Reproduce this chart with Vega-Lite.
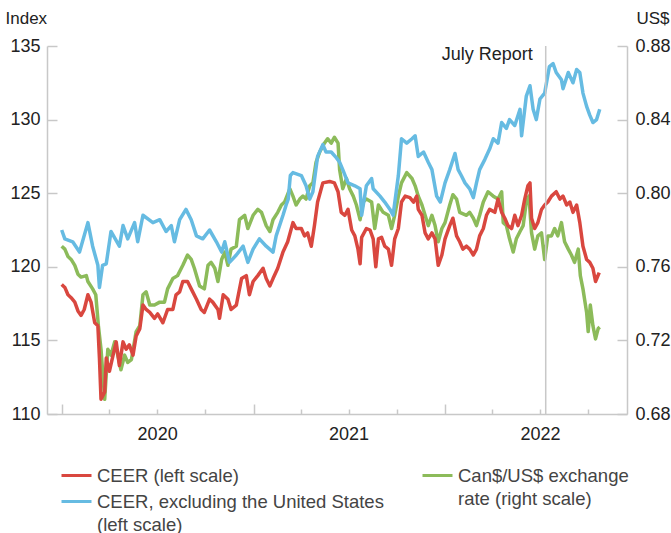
{
  "$schema": "https://vega.github.io/schema/vega-lite/v6.json",
  "width": 580,
  "height": 368,
  "autosize": "none",
  "padding": {"left": 47, "top": 46, "right": 44, "bottom": 119},
  "config": {
    "font": "Liberation Sans",
    "view": {"stroke": null},
    "axis": {
      "grid": false,
      "domainColor": "#c8c8c8",
      "tickColor": "#c8c8c8",
      "domainWidth": 1.5,
      "tickWidth": 1.5,
      "labelColor": "#222222",
      "labelFontSize": 18,
      "titleFontSize": 17,
      "titleFontWeight": "normal",
      "titleColor": "#222222"
    },
    "legend": {
      "labelFontSize": 18.5,
      "labelColor": "#444444",
      "labelLimit": 500,
      "symbolType": "stroke",
      "symbolStrokeWidth": 3,
      "symbolSize": 900,
      "padding": 0,
      "rowPadding": -4
    },
    "style": {"guide-label": {"lineHeight": 23}}
  },
  "datasets": {
    "ceer": [
      {"date": "2020-01-01", "value": 118.8}, {"date": "2020-01-07", "value": 118.6}, {"date": "2020-01-13", "value": 118.1},
      {"date": "2020-01-19", "value": 117.9}, {"date": "2020-01-26", "value": 117.6}, {"date": "2020-02-01", "value": 117.0},
      {"date": "2020-02-07", "value": 116.7}, {"date": "2020-02-13", "value": 117.1}, {"date": "2020-02-20", "value": 118.1},
      {"date": "2020-02-26", "value": 117.6}, {"date": "2020-03-04", "value": 116.2}, {"date": "2020-03-10", "value": 116.0},
      {"date": "2020-03-13", "value": 113.8}, {"date": "2020-03-16", "value": 111.0}, {"date": "2020-03-23", "value": 111.5},
      {"date": "2020-03-26", "value": 113.8}, {"date": "2020-04-01", "value": 112.9}, {"date": "2020-04-08", "value": 114.0},
      {"date": "2020-04-14", "value": 114.9}, {"date": "2020-04-20", "value": 113.3}, {"date": "2020-04-27", "value": 114.9},
      {"date": "2020-05-03", "value": 114.4}, {"date": "2020-05-09", "value": 114.7}, {"date": "2020-05-16", "value": 114.0},
      {"date": "2020-05-22", "value": 115.3}, {"date": "2020-05-29", "value": 115.8}, {"date": "2020-06-04", "value": 117.4},
      {"date": "2020-06-10", "value": 117.1}, {"date": "2020-06-17", "value": 116.9}, {"date": "2020-06-26", "value": 116.5},
      {"date": "2020-07-02", "value": 116.8}, {"date": "2020-07-12", "value": 116.2}, {"date": "2020-07-21", "value": 117.1},
      {"date": "2020-07-31", "value": 117.1}, {"date": "2020-08-06", "value": 118.1}, {"date": "2020-08-13", "value": 118.3},
      {"date": "2020-08-19", "value": 119.0}, {"date": "2020-08-28", "value": 119.0}, {"date": "2020-09-04", "value": 118.5},
      {"date": "2020-09-14", "value": 117.8}, {"date": "2020-09-23", "value": 117.1}, {"date": "2020-09-29", "value": 116.9},
      {"date": "2020-10-09", "value": 117.8}, {"date": "2020-10-15", "value": 117.6}, {"date": "2020-10-25", "value": 117.1},
      {"date": "2020-10-28", "value": 116.5}, {"date": "2020-11-04", "value": 118.1}, {"date": "2020-11-13", "value": 117.8},
      {"date": "2020-11-19", "value": 117.1}, {"date": "2020-11-29", "value": 117.4}, {"date": "2020-12-09", "value": 119.2},
      {"date": "2020-12-18", "value": 119.4}, {"date": "2020-12-24", "value": 118.1}, {"date": "2020-12-31", "value": 119.0},
      {"date": "2021-01-09", "value": 119.4}, {"date": "2021-01-19", "value": 119.9}, {"date": "2021-01-25", "value": 119.2},
      {"date": "2021-02-01", "value": 118.7}, {"date": "2021-02-07", "value": 119.2}, {"date": "2021-02-16", "value": 119.9},
      {"date": "2021-02-26", "value": 121.0}, {"date": "2021-03-07", "value": 121.7}, {"date": "2021-03-17", "value": 123.0},
      {"date": "2021-03-23", "value": 122.6}, {"date": "2021-04-02", "value": 122.6}, {"date": "2021-04-08", "value": 122.1},
      {"date": "2021-04-14", "value": 122.3}, {"date": "2021-04-21", "value": 121.4}, {"date": "2021-04-27", "value": 122.8},
      {"date": "2021-05-03", "value": 124.4}, {"date": "2021-05-13", "value": 125.7}, {"date": "2021-05-26", "value": 125.8},
      {"date": "2021-06-04", "value": 125.7}, {"date": "2021-06-11", "value": 125.1}, {"date": "2021-06-17", "value": 123.7},
      {"date": "2021-06-24", "value": 123.5}, {"date": "2021-06-30", "value": 123.9}, {"date": "2021-07-07", "value": 122.5},
      {"date": "2021-07-13", "value": 122.1}, {"date": "2021-07-19", "value": 121.2}, {"date": "2021-07-23", "value": 120.2},
      {"date": "2021-07-26", "value": 122.0}, {"date": "2021-08-04", "value": 122.6}, {"date": "2021-08-11", "value": 122.5},
      {"date": "2021-08-17", "value": 121.9}, {"date": "2021-08-22", "value": 120.0}, {"date": "2021-08-27", "value": 121.9},
      {"date": "2021-09-02", "value": 122.0}, {"date": "2021-09-08", "value": 121.4}, {"date": "2021-09-15", "value": 121.2},
      {"date": "2021-09-21", "value": 120.1}, {"date": "2021-09-27", "value": 121.9}, {"date": "2021-10-04", "value": 122.6},
      {"date": "2021-10-10", "value": 124.4}, {"date": "2021-10-17", "value": 124.8}, {"date": "2021-10-26", "value": 124.7},
      {"date": "2021-11-02", "value": 124.4}, {"date": "2021-11-08", "value": 124.8}, {"date": "2021-11-11", "value": 123.9},
      {"date": "2021-11-18", "value": 123.5}, {"date": "2021-11-24", "value": 122.3}, {"date": "2021-11-30", "value": 121.9},
      {"date": "2021-12-07", "value": 122.3}, {"date": "2021-12-13", "value": 121.9}, {"date": "2021-12-19", "value": 120.1},
      {"date": "2021-12-26", "value": 120.8}, {"date": "2022-01-01", "value": 121.9}, {"date": "2022-01-10", "value": 122.8},
      {"date": "2022-01-16", "value": 123.3}, {"date": "2022-01-23", "value": 122.1}, {"date": "2022-01-29", "value": 121.7},
      {"date": "2022-02-04", "value": 121.2}, {"date": "2022-02-11", "value": 121.4}, {"date": "2022-02-17", "value": 121.2},
      {"date": "2022-02-24", "value": 120.8}, {"date": "2022-03-02", "value": 121.2}, {"date": "2022-03-08", "value": 122.1},
      {"date": "2022-03-15", "value": 122.6}, {"date": "2022-03-21", "value": 123.5}, {"date": "2022-03-27", "value": 123.9},
      {"date": "2022-04-06", "value": 123.7}, {"date": "2022-04-12", "value": 124.6}, {"date": "2022-04-19", "value": 123.7},
      {"date": "2022-04-25", "value": 123.3}, {"date": "2022-05-01", "value": 122.8}, {"date": "2022-05-08", "value": 122.6},
      {"date": "2022-05-14", "value": 123.5}, {"date": "2022-05-20", "value": 122.8}, {"date": "2022-05-27", "value": 123.5},
      {"date": "2022-06-02", "value": 124.6}, {"date": "2022-06-08", "value": 125.5}, {"date": "2022-06-12", "value": 125.7},
      {"date": "2022-06-15", "value": 123.3}, {"date": "2022-06-21", "value": 122.6}, {"date": "2022-06-27", "value": 123.0},
      {"date": "2022-07-04", "value": 123.9}, {"date": "2022-07-10", "value": 124.2}, {"date": "2022-07-16", "value": 124.4},
      {"date": "2022-07-23", "value": 124.8}, {"date": "2022-08-01", "value": 125.1}, {"date": "2022-08-08", "value": 124.6},
      {"date": "2022-08-14", "value": 124.8}, {"date": "2022-08-21", "value": 124.2}, {"date": "2022-08-27", "value": 124.4},
      {"date": "2022-09-02", "value": 123.7}, {"date": "2022-09-09", "value": 124.2}, {"date": "2022-09-15", "value": 123.0},
      {"date": "2022-09-21", "value": 121.4}, {"date": "2022-09-28", "value": 120.5}, {"date": "2022-10-04", "value": 120.3},
      {"date": "2022-10-10", "value": 119.9}, {"date": "2022-10-15", "value": 119.0}, {"date": "2022-10-22", "value": 119.6}
    ],
    "ceerx": [
      {"date": "2020-01-01", "value": 122.5}, {"date": "2020-01-07", "value": 121.9}, {"date": "2020-01-22", "value": 121.7},
      {"date": "2020-02-04", "value": 121.0}, {"date": "2020-02-20", "value": 123.0}, {"date": "2020-02-29", "value": 121.4},
      {"date": "2020-03-10", "value": 120.1}, {"date": "2020-03-13", "value": 118.6}, {"date": "2020-03-19", "value": 120.1},
      {"date": "2020-03-26", "value": 120.2}, {"date": "2020-04-04", "value": 122.4}, {"date": "2020-04-20", "value": 121.4},
      {"date": "2020-04-27", "value": 122.8}, {"date": "2020-05-06", "value": 121.9}, {"date": "2020-05-19", "value": 123.0},
      {"date": "2020-05-25", "value": 121.7}, {"date": "2020-06-04", "value": 123.5}, {"date": "2020-06-23", "value": 123.0},
      {"date": "2020-07-06", "value": 123.2}, {"date": "2020-07-18", "value": 122.4}, {"date": "2020-07-28", "value": 122.8},
      {"date": "2020-08-03", "value": 121.7}, {"date": "2020-08-13", "value": 123.2}, {"date": "2020-08-25", "value": 123.9},
      {"date": "2020-09-04", "value": 123.2}, {"date": "2020-09-14", "value": 122.1}, {"date": "2020-09-26", "value": 121.9},
      {"date": "2020-10-09", "value": 122.5}, {"date": "2020-10-22", "value": 121.7}, {"date": "2020-11-01", "value": 121.0},
      {"date": "2020-11-07", "value": 121.7}, {"date": "2020-11-16", "value": 120.3}, {"date": "2020-11-29", "value": 120.8},
      {"date": "2020-12-12", "value": 121.4}, {"date": "2020-12-21", "value": 120.3}, {"date": "2020-12-31", "value": 121.2},
      {"date": "2021-01-12", "value": 121.9}, {"date": "2021-01-25", "value": 121.4}, {"date": "2021-02-07", "value": 121.0},
      {"date": "2021-02-13", "value": 122.1}, {"date": "2021-02-26", "value": 123.5}, {"date": "2021-03-04", "value": 124.2},
      {"date": "2021-03-08", "value": 124.6}, {"date": "2021-03-12", "value": 126.2}, {"date": "2021-03-17", "value": 126.4},
      {"date": "2021-04-02", "value": 126.2}, {"date": "2021-04-11", "value": 125.5}, {"date": "2021-04-18", "value": 124.6},
      {"date": "2021-04-24", "value": 125.1}, {"date": "2021-05-03", "value": 127.5}, {"date": "2021-05-13", "value": 128.3},
      {"date": "2021-05-19", "value": 127.8}, {"date": "2021-05-29", "value": 127.8}, {"date": "2021-06-08", "value": 127.4},
      {"date": "2021-06-14", "value": 127.1}, {"date": "2021-06-20", "value": 126.6}, {"date": "2021-06-30", "value": 125.7},
      {"date": "2021-07-13", "value": 125.5}, {"date": "2021-07-23", "value": 125.3}, {"date": "2021-07-26", "value": 123.5},
      {"date": "2021-08-04", "value": 125.5}, {"date": "2021-08-14", "value": 126.0}, {"date": "2021-08-17", "value": 125.3},
      {"date": "2021-08-30", "value": 124.8}, {"date": "2021-09-08", "value": 124.4}, {"date": "2021-09-18", "value": 123.9},
      {"date": "2021-09-24", "value": 123.5}, {"date": "2021-10-04", "value": 126.2}, {"date": "2021-10-10", "value": 128.7},
      {"date": "2021-10-20", "value": 128.4}, {"date": "2021-10-30", "value": 128.7}, {"date": "2021-11-05", "value": 128.9},
      {"date": "2021-11-11", "value": 127.5}, {"date": "2021-11-21", "value": 127.8}, {"date": "2021-11-30", "value": 127.1},
      {"date": "2021-12-07", "value": 126.6}, {"date": "2021-12-16", "value": 124.8}, {"date": "2021-12-23", "value": 124.4},
      {"date": "2022-01-01", "value": 125.7}, {"date": "2022-01-10", "value": 126.6}, {"date": "2022-01-20", "value": 127.7},
      {"date": "2022-01-26", "value": 126.6}, {"date": "2022-02-01", "value": 126.2}, {"date": "2022-02-08", "value": 125.7},
      {"date": "2022-02-17", "value": 125.3}, {"date": "2022-02-24", "value": 124.7}, {"date": "2022-03-02", "value": 125.7},
      {"date": "2022-03-08", "value": 126.6}, {"date": "2022-03-18", "value": 127.3}, {"date": "2022-03-27", "value": 128.0},
      {"date": "2022-04-03", "value": 128.7}, {"date": "2022-04-12", "value": 128.4}, {"date": "2022-04-19", "value": 129.8},
      {"date": "2022-04-28", "value": 129.4}, {"date": "2022-05-04", "value": 130.0}, {"date": "2022-05-14", "value": 129.6},
      {"date": "2022-05-24", "value": 130.7}, {"date": "2022-05-27", "value": 128.9}, {"date": "2022-06-05", "value": 131.6},
      {"date": "2022-06-12", "value": 132.3}, {"date": "2022-06-18", "value": 130.7}, {"date": "2022-06-24", "value": 130.0},
      {"date": "2022-07-01", "value": 131.4}, {"date": "2022-07-10", "value": 131.8}, {"date": "2022-07-19", "value": 133.6},
      {"date": "2022-07-26", "value": 133.8}, {"date": "2022-08-01", "value": 133.2}, {"date": "2022-08-11", "value": 132.7},
      {"date": "2022-08-14", "value": 132.1}, {"date": "2022-08-24", "value": 133.2}, {"date": "2022-09-02", "value": 132.5},
      {"date": "2022-09-09", "value": 133.4}, {"date": "2022-09-15", "value": 133.2}, {"date": "2022-09-21", "value": 131.8},
      {"date": "2022-09-28", "value": 130.9}, {"date": "2022-10-04", "value": 130.3}, {"date": "2022-10-10", "value": 129.8},
      {"date": "2022-10-17", "value": 130.0}, {"date": "2022-10-23", "value": 130.7}
    ],
    "cad": [
      {"date": "2020-01-01", "value": 0.7712}, {"date": "2020-01-07", "value": 0.7696}, {"date": "2020-01-13", "value": 0.7656},
      {"date": "2020-01-19", "value": 0.764}, {"date": "2020-01-26", "value": 0.7608}, {"date": "2020-02-01", "value": 0.756},
      {"date": "2020-02-07", "value": 0.7544}, {"date": "2020-02-17", "value": 0.7552}, {"date": "2020-02-20", "value": 0.752},
      {"date": "2020-02-29", "value": 0.748}, {"date": "2020-03-06", "value": 0.7448}, {"date": "2020-03-11", "value": 0.728},
      {"date": "2020-03-16", "value": 0.7152}, {"date": "2020-03-23", "value": 0.688}, {"date": "2020-03-29", "value": 0.7152},
      {"date": "2020-04-04", "value": 0.712}, {"date": "2020-04-11", "value": 0.7192}, {"date": "2020-04-17", "value": 0.712},
      {"date": "2020-04-23", "value": 0.704}, {"date": "2020-04-30", "value": 0.712}, {"date": "2020-05-06", "value": 0.708},
      {"date": "2020-05-13", "value": 0.7096}, {"date": "2020-05-22", "value": 0.7248}, {"date": "2020-05-29", "value": 0.728},
      {"date": "2020-06-04", "value": 0.7448}, {"date": "2020-06-10", "value": 0.7464}, {"date": "2020-06-17", "value": 0.7392},
      {"date": "2020-06-26", "value": 0.7392}, {"date": "2020-07-06", "value": 0.7408}, {"date": "2020-07-15", "value": 0.7408},
      {"date": "2020-07-21", "value": 0.748}, {"date": "2020-07-31", "value": 0.7536}, {"date": "2020-08-09", "value": 0.7552},
      {"date": "2020-08-19", "value": 0.7608}, {"date": "2020-08-28", "value": 0.7664}, {"date": "2020-09-04", "value": 0.764},
      {"date": "2020-09-10", "value": 0.7592}, {"date": "2020-09-20", "value": 0.7496}, {"date": "2020-09-29", "value": 0.748},
      {"date": "2020-10-06", "value": 0.7608}, {"date": "2020-10-12", "value": 0.7624}, {"date": "2020-10-19", "value": 0.7592},
      {"date": "2020-10-25", "value": 0.752}, {"date": "2020-11-01", "value": 0.764}, {"date": "2020-11-07", "value": 0.768},
      {"date": "2020-11-13", "value": 0.7608}, {"date": "2020-11-19", "value": 0.7696}, {"date": "2020-11-29", "value": 0.7712},
      {"date": "2020-12-05", "value": 0.7856}, {"date": "2020-12-15", "value": 0.788}, {"date": "2020-12-21", "value": 0.7808},
      {"date": "2020-12-31", "value": 0.788}, {"date": "2021-01-09", "value": 0.7912}, {"date": "2021-01-16", "value": 0.7896},
      {"date": "2021-01-25", "value": 0.7824}, {"date": "2021-02-01", "value": 0.7792}, {"date": "2021-02-07", "value": 0.7856},
      {"date": "2021-02-16", "value": 0.7896}, {"date": "2021-02-23", "value": 0.7936}, {"date": "2021-03-01", "value": 0.7952},
      {"date": "2021-03-11", "value": 0.8024}, {"date": "2021-03-17", "value": 0.7984}, {"date": "2021-03-23", "value": 0.7936},
      {"date": "2021-03-30", "value": 0.7968}, {"date": "2021-04-05", "value": 0.7984}, {"date": "2021-04-11", "value": 0.7968},
      {"date": "2021-04-18", "value": 0.804}, {"date": "2021-04-24", "value": 0.8056}, {"date": "2021-04-30", "value": 0.8168},
      {"date": "2021-05-07", "value": 0.8224}, {"date": "2021-05-16", "value": 0.8272}, {"date": "2021-05-22", "value": 0.8296},
      {"date": "2021-05-29", "value": 0.8272}, {"date": "2021-06-04", "value": 0.8304}, {"date": "2021-06-11", "value": 0.8272},
      {"date": "2021-06-14", "value": 0.8128}, {"date": "2021-06-20", "value": 0.8024}, {"date": "2021-06-27", "value": 0.808},
      {"date": "2021-07-03", "value": 0.8024}, {"date": "2021-07-10", "value": 0.7984}, {"date": "2021-07-16", "value": 0.7936},
      {"date": "2021-07-23", "value": 0.7856}, {"date": "2021-07-29", "value": 0.7952}, {"date": "2021-08-04", "value": 0.7968},
      {"date": "2021-08-14", "value": 0.7952}, {"date": "2021-08-20", "value": 0.7808}, {"date": "2021-08-27", "value": 0.7936},
      {"date": "2021-09-05", "value": 0.7896}, {"date": "2021-09-15", "value": 0.788}, {"date": "2021-09-21", "value": 0.7808},
      {"date": "2021-09-27", "value": 0.788}, {"date": "2021-10-04", "value": 0.7984}, {"date": "2021-10-10", "value": 0.8056},
      {"date": "2021-10-20", "value": 0.8112}, {"date": "2021-10-30", "value": 0.808}, {"date": "2021-11-05", "value": 0.804},
      {"date": "2021-11-11", "value": 0.7984}, {"date": "2021-11-18", "value": 0.7936}, {"date": "2021-11-24", "value": 0.788},
      {"date": "2021-11-30", "value": 0.7824}, {"date": "2021-12-07", "value": 0.788}, {"date": "2021-12-13", "value": 0.7824},
      {"date": "2021-12-19", "value": 0.7736}, {"date": "2021-12-26", "value": 0.7808}, {"date": "2022-01-01", "value": 0.784},
      {"date": "2022-01-10", "value": 0.7936}, {"date": "2022-01-16", "value": 0.7992}, {"date": "2022-01-23", "value": 0.7968},
      {"date": "2022-01-29", "value": 0.7896}, {"date": "2022-02-11", "value": 0.788}, {"date": "2022-02-17", "value": 0.7896},
      {"date": "2022-02-24", "value": 0.7864}, {"date": "2022-03-02", "value": 0.7824}, {"date": "2022-03-08", "value": 0.788},
      {"date": "2022-03-15", "value": 0.7952}, {"date": "2022-03-24", "value": 0.8008}, {"date": "2022-04-03", "value": 0.7984},
      {"date": "2022-04-12", "value": 0.7968}, {"date": "2022-04-19", "value": 0.8008}, {"date": "2022-04-22", "value": 0.784},
      {"date": "2022-04-28", "value": 0.7824}, {"date": "2022-05-04", "value": 0.7752}, {"date": "2022-05-11", "value": 0.768},
      {"date": "2022-05-17", "value": 0.7752}, {"date": "2022-05-24", "value": 0.7792}, {"date": "2022-05-30", "value": 0.7824},
      {"date": "2022-06-05", "value": 0.7952}, {"date": "2022-06-10", "value": 0.7984}, {"date": "2022-06-15", "value": 0.7784},
      {"date": "2022-06-21", "value": 0.7696}, {"date": "2022-06-27", "value": 0.7768}, {"date": "2022-07-04", "value": 0.7784},
      {"date": "2022-07-10", "value": 0.764}, {"date": "2022-07-16", "value": 0.7768}, {"date": "2022-07-23", "value": 0.7768},
      {"date": "2022-07-29", "value": 0.7808}, {"date": "2022-08-04", "value": 0.7768}, {"date": "2022-08-11", "value": 0.784},
      {"date": "2022-08-17", "value": 0.7736}, {"date": "2022-08-24", "value": 0.7696}, {"date": "2022-08-30", "value": 0.7664},
      {"date": "2022-09-05", "value": 0.7624}, {"date": "2022-09-12", "value": 0.7696}, {"date": "2022-09-16", "value": 0.7552},
      {"date": "2022-09-21", "value": 0.748}, {"date": "2022-09-28", "value": 0.7352}, {"date": "2022-10-01", "value": 0.7248},
      {"date": "2022-10-05", "value": 0.7392}, {"date": "2022-10-10", "value": 0.728}, {"date": "2022-10-15", "value": 0.7208},
      {"date": "2022-10-20", "value": 0.7264}, {"date": "2022-10-23", "value": 0.7272}
    ],
    "report": [{"date": "2022-07-12", "label": "July Report", "level": 135}]
  },
  "resolve": {"scale": {"y": "independent", "color": "independent"}},
  "layer": [
    {
      "data": {"name": "cad"},
      "mark": {"type": "line", "strokeWidth": 3.5, "strokeJoin": "round"},
      "encoding": {
        "x": {"field": "date", "type": "temporal"},
        "y": {
          "field": "value", "type": "quantitative",
          "scale": {"domain": [0.68, 0.88], "zero": false, "nice": false},
          "axis": {
            "orient": "right",
            "values": [0.68, 0.72, 0.76, 0.80, 0.84, 0.88],
            "format": ".2f",
            "tickSize": -10,
            "labelPadding": 18,
            "title": "US$",
            "titleAngle": 0,
            "titleAlign": "left",
            "titleBaseline": "middle",
            "titleX": 9,
            "titleY": -28
          }
        },
        "color": {
          "datum": "Can$/US$ exchange rate (right scale)",
          "type": "nominal",
          "scale": {"domain": ["Can$/US$ exchange rate (right scale)"], "range": ["#8cbb5a"]},
          "legend": {
            "orient": "none",
            "legendX": 374,
            "legendY": 413,
            "title": null,
            "labelExpr": "['Can$/US$ exchange', 'rate (right scale)']"
          }
        }
      }
    },
    {
      "layer": [
        {
          "data": {"name": "ceerx"},
          "mark": {"type": "line", "strokeWidth": 3.5, "strokeJoin": "round"},
          "encoding": {
            "x": {
              "field": "date", "type": "temporal",
              "scale": {"domain": [{"year": 2019, "month": 12, "date": 4}, {"year": 2022, "month": 12, "date": 14}]},
              "axis": {
                "title": null,
                "values": [
                  {"year": 2020, "month": 1, "date": 1}, {"year": 2020, "month": 4, "date": 1},
                  {"year": 2020, "month": 7, "date": 1}, {"year": 2020, "month": 10, "date": 1},
                  {"year": 2021, "month": 1, "date": 1}, {"year": 2021, "month": 4, "date": 1},
                  {"year": 2021, "month": 7, "date": 1}, {"year": 2021, "month": 10, "date": 1},
                  {"year": 2022, "month": 1, "date": 1}, {"year": 2022, "month": 4, "date": 1},
                  {"year": 2022, "month": 7, "date": 1}, {"year": 2022, "month": 10, "date": 1}
                ],
                "labelExpr": "month(datum.value) == 6 ? timeFormat(datum.value, '%Y') : ''",
                "tickSize": {"condition": {"test": "month(datum.value) == 0", "value": -10}, "value": -5},
                "labelPadding": 16,
                "labelFlush": false,
                "labelOverlap": false
              }
            },
            "y": {
              "field": "value", "type": "quantitative",
              "scale": {"domain": [110, 135], "zero": false, "nice": false},
              "axis": {
                "orient": "left",
                "values": [110, 115, 120, 125, 130, 135],
                "tickSize": -10,
                "labelPadding": 17,
                "title": "Index",
                "titleAngle": 0,
                "titleAlign": "left",
                "titleBaseline": "middle",
                "titleX": -42,
                "titleY": -28
              }
            },
            "color": {
              "datum": "CEER, excluding the United States (left scale)",
              "type": "nominal",
              "scale": {"domain": ["CEER (left scale)", "CEER, excluding the United States (left scale)"], "range": ["#d9473f", "#66bbe2"]},
              "legend": {
                "orient": "none",
                "legendX": 13,
                "legendY": 413,
                "title": null,
                "labelExpr": "datum.label == 'CEER (left scale)' ? datum.label : ['CEER, excluding the United States', '(left scale)']"
              }
            }
          }
        },
        {
          "data": {"name": "ceer"},
          "mark": {"type": "line", "strokeWidth": 3.5, "strokeJoin": "round"},
          "encoding": {
            "x": {"field": "date", "type": "temporal"},
            "y": {"field": "value", "type": "quantitative"},
            "color": {"datum": "CEER (left scale)", "type": "nominal"}
          }
        },
        {
          "data": {"name": "report"},
          "mark": {"type": "rule", "color": "#c8c8c8", "strokeWidth": 1.5},
          "encoding": {
            "x": {"field": "date", "type": "temporal"}
          }
        },
        {
          "data": {"name": "report"},
          "mark": {"type": "text", "align": "right", "baseline": "alphabetic", "dx": -13, "dy": 14, "fontSize": 18, "color": "#222222"},
          "encoding": {
            "x": {"field": "date", "type": "temporal"},
            "y": {"field": "level", "type": "quantitative"},
            "text": {"field": "label"}
          }
        }
      ]
    }
  ]
}
